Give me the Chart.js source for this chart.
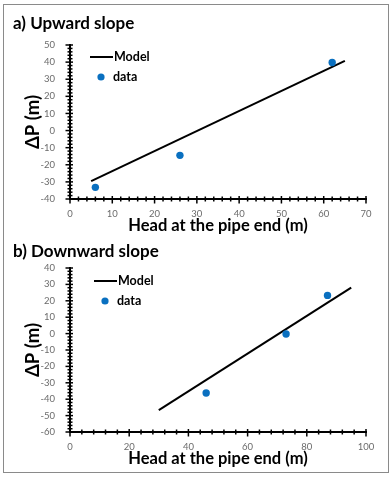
<!DOCTYPE html>
<html><head><meta charset="utf-8">
<script src="https://cdn.jsdelivr.net/npm/chart.js@4"></script>
<style>
html,body{margin:0;padding:0;background:#fff;}
#wrap{position:relative;width:392px;height:480px;overflow:hidden;}
#frame{position:absolute;left:3px;top:4px;width:384px;height:467px;border:1.5px solid #8a8a8a;}
.cv{position:absolute;left:0;width:392px;}
#ca{top:0;height:236px;}
#cb{top:236px;height:239px;}
</style></head><body>
<div id="wrap"><div id="frame"></div>
<div class="cv" id="ca"><canvas id="a"></canvas></div>
<div class="cv" id="cb"><canvas id="b"></canvas></div>
</div>
<script>
// ---- data (a) Upward slope ----
const upModelX = [5, 65];
const upModelY = [-29.6, 40.7];
const upDataX = [6, 26, 62];
const upDataY = [-33.2, -14.5, 39.8];
const upXTicks = [0, 10, 20, 30, 40, 50, 60, 70];
const upYTicks = [-40, -30, -20, -10, 0, 10, 20, 30, 40, 50];
// ---- data (b) Downward slope ----
const downModelX = [30, 95];
const downModelY = [-46.7, 28];
const downDataX = [46, 73, 87];
const downDataY = [-36.2, -0.2, 23.3];
const downXTicks = [0, 20, 40, 60, 80, 100];
const downYTicks = [-60, -50, -40, -30, -20, -10, 0, 10, 20, 30, 40];

const labels = ['Model', 'data'];
const titles = ['a) Upward slope', 'b) Downward slope'];
const xTitle = 'Head at the pipe end (m)';
const yTitle = 'ΔP (m)';

const FONT = "Lato, 'Open Sans', sans-serif";
const BLUE = '#0a70c0';

function pts(xs, ys){ return xs.map((x,i)=>({x:x, y:ys[i]})); }

const minorTicks = {
  id:'minorTicks',
  afterDatasetsDraw(chart, args, opts){
    const ctx = chart.ctx, xs = chart.scales.x, ys = chart.scales.y;
    ctx.save();
    ctx.strokeStyle = '#000';
    ctx.lineWidth = 1.5;
    for (let v = xs.min; v <= xs.max + 1e-9; v += opts.xMinor){
      const p = xs.getPixelForValue(v);
      const major = Math.abs((v / opts.xMajor) - Math.round(v / opts.xMajor)) < 1e-6;
      ctx.beginPath();
      ctx.moveTo(p, ys.bottom - (major ? 3 : 2.5));
      ctx.lineTo(p, ys.bottom + (major ? 4.5 : 2.5));
      ctx.stroke();
    }
    for (let v = ys.min; v <= ys.max + 1e-9; v += opts.yMinor){
      const p = ys.getPixelForValue(v);
      const major = Math.abs((v / opts.yMajor) - Math.round(v / opts.yMajor)) < 1e-6;
      ctx.beginPath();
      ctx.moveTo(xs.left - (major ? 4.5 : 2.5), p);
      ctx.lineTo(xs.left + (major ? 3 : 2.5), p);
      ctx.stroke();
    }
    ctx.restore();
  }
};

const customLegend = {
  id:'customLegend',
  afterDraw(chart, args, opts){
    const ctx = chart.ctx;
    const ds = chart.data.datasets;
    ctx.save();
    ctx.font = "bold 12.5px " + FONT;
    ctx.fillStyle = '#000';
    ctx.textBaseline = 'middle';
    ctx.strokeStyle = ds[0].borderColor;
    ctx.lineWidth = 2;
    ctx.beginPath();
    ctx.moveTo(opts.x, opts.y);
    ctx.lineTo(opts.x + 23, opts.y);
    ctx.stroke();
    ctx.fillText(ds[0].label, opts.x + 24, opts.y);
    ctx.fillStyle = ds[1].backgroundColor;
    ctx.beginPath();
    ctx.arc(opts.x + 11, opts.y + 20, 3.6, 0, Math.PI*2);
    ctx.fill();
    ctx.fillStyle = '#000';
    ctx.fillText(ds[1].label, opts.x + 23, opts.y + 20);
    ctx.restore();
  }
};

function makeChart(id, cfg){
  return new Chart(document.getElementById(id), {
    type:'scatter',
    data:{datasets:[
      {label:labels[0], data:pts(cfg.mx, cfg.my), showLine:true, borderColor:'#000', backgroundColor:'#000', borderWidth:2, pointRadius:0, order:2},
      {label:labels[1], data:pts(cfg.dx, cfg.dy), borderColor:BLUE, backgroundColor:BLUE, pointRadius:3.7, pointHoverRadius:3.7, borderWidth:0, order:1}
    ]},
    options:{
      responsive:true, maintainAspectRatio:false, animation:false,
      layout:{padding:{left:13, right:26, top:cfg.padTop, bottom:cfg.padBottom}},
      plugins:{
        legend:{display:false}, tooltip:{enabled:false},
        title:{display:true, text:cfg.title, align:'start', color:'#000',
          font:{family:FONT, size:17, weight:'bold', lineHeight:1.2},
          padding:{top:cfg.t1, bottom:cfg.t2}},
        minorTicks:cfg.minor,
        customLegend:cfg.leg
      },
      scales:{
        x:{type:'linear', min:cfg.xt[0], max:cfg.xt[cfg.xt.length-1],
          afterBuildTicks:(s)=>{ s.ticks = cfg.xt.map(v=>({value:v})); },
          afterFit:(s)=>{ s.height = 37; },
          grid:{display:false, drawTicks:false, tickLength:0},
          border:{display:true, color:'#000', width:2},
          ticks:{color:'#6b6b6b', font:{family:FONT, size:9.5}, padding:9, maxRotation:0, autoSkip:false},
          title:{display:true, text:xTitle, color:'#000', font:{family:FONT, size:16.5, weight:'bold', lineHeight:1.2}, padding:{top:0, bottom:0}}
        },
        y:{type:'linear', min:cfg.yt[0], max:cfg.yt[cfg.yt.length-1],
          afterBuildTicks:(s)=>{ s.ticks = cfg.yt.map(v=>({value:v})); },
          afterFit:(s)=>{ s.width = 57; },
          grid:{display:false, drawTicks:false, tickLength:0},
          border:{display:true, color:'#000', width:2},
          ticks:{color:'#6b6b6b', font:{family:FONT, size:9.5}, padding:15, autoSkip:false},
          title:{display:true, text:yTitle, color:'#000', font:{family:FONT, size:18.5, weight:'bold', lineHeight:1.2}, padding:{top:9, bottom:0}}
        }
      }
    },
    plugins:[minorTicks, customLegend]
  });
}

makeChart('a', {mx:upModelX, my:upModelY, dx:upDataX, dy:upDataY, xt:upXTicks, yt:upYTicks,
  title:titles[0], padTop:5, t1:8.8, t2:10.8, padBottom:0,
  minor:{xMinor:2, xMajor:10, yMinor:2, yMajor:10}, leg:{x:90, y:57}});
makeChart('b', {mx:downModelX, my:downModelY, dx:downDataX, dy:downDataY, xt:downXTicks, yt:downYTicks,
  title:titles[1], padTop:2, t1:3.5, t2:6.1, padBottom:6,
  minor:{xMinor:4, xMajor:20, yMinor:2, yMajor:10}, leg:{x:94, y:45}});
</script>
</body></html>
